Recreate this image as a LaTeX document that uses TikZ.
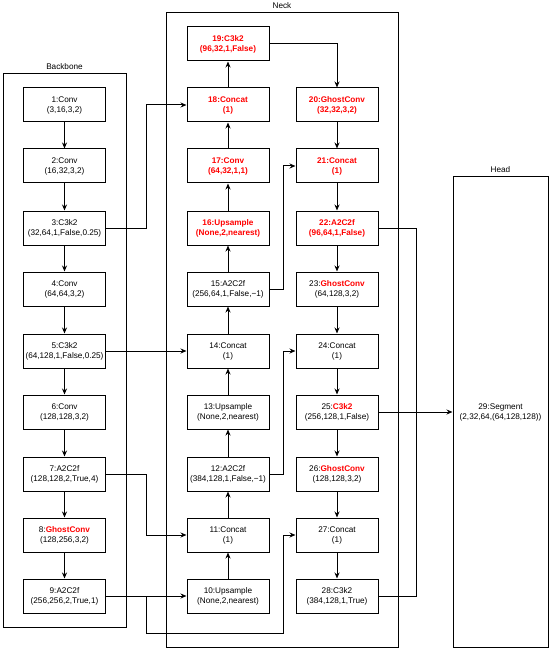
\documentclass[tikz,border=0pt]{standalone}
\usepackage{fontspec}
\setmainfont{Liberation Sans}
\usetikzlibrary{arrows.meta}
\definecolor{hl}{RGB}{255,0,0}
\tikzset{
 blk/.style={draw, line width=1pt, minimum width=82pt, minimum height=34pt, inner sep=0pt, align=center, font=\fontsize{8.2}{10}\selectfont},
 con/.style={line width=1pt, -{Stealth[length=6pt,width=5pt]}},
 ln/.style={line width=1pt},
 grp/.style={draw, line width=1pt},
 ttl/.style={font=\fontsize{8.2}{10}\selectfont}
}
\newcommand{\hlt}[1]{\textcolor{hl}{\bfseries #1}}
\begin{document}
\begin{tikzpicture}[x=1pt,y=-1pt]
\useasboundingbox (0,0) rectangle (550,652);
% containers
\draw[grp] (3,74) rectangle (126,627);
\node[ttl] (tb) at (64.5,67) {Backbone};
\draw[grp] (166,13) rectangle (398,647);
\node[ttl] (tn) at (282,6) {Neck};
\node[blk, minimum width=95pt, minimum height=471pt] (h29) at (500.5,412) {29:Segment\\(2,32,64,(64,128,128))};
\node[ttl] (th) at (500.5,170) {Head};
% backbone
\node[blk] (b1) at (64.5,105) {1:Conv\\(3,16,3,2)};
\node[blk] (b2) at (64.5,166) {2:Conv\\(16,32,3,2)};
\node[blk] (b3) at (64.5,228) {3:C3k2\\(32,64,1,False,0.25)};
\node[blk] (b4) at (64.5,289) {4:Conv\\(64,64,3,2)};
\node[blk] (b5) at (64.5,351) {5:C3k2\\(64,128,1,False,0.25)};
\node[blk] (b6) at (64.5,412) {6:Conv\\(128,128,3,2)};
\node[blk] (b7) at (64.5,474) {7:A2C2f\\(128,128,2,True,4)};
\node[blk] (b8) at (64.5,535) {8:\hlt{GhostConv}\\(128,256,3,2)};
\node[blk] (b9) at (64.5,596) {9:A2C2f\\(256,256,2,True,1)};
% neck left
\node[blk] (n19) at (228,44) {\hlt{19:C3k2}\\\hlt{(96,32,1,False)}};
\node[blk] (n18) at (228,105) {\hlt{18:Concat}\\\hlt{(1)}};
\node[blk] (n17) at (228,166) {\hlt{17:Conv}\\\hlt{(64,32,1,1)}};
\node[blk] (n16) at (228,228) {\hlt{16:Upsample}\\\hlt{(None,2,nearest)}};
\node[blk] (n15) at (228,289) {15:A2C2f\\(256,64,1,False,−1)};
\node[blk] (n14) at (228,351) {14:Concat\\(1)};
\node[blk] (n13) at (228,412) {13:Upsample\\(None,2,nearest)};
\node[blk] (n12) at (228,474) {12:A2C2f\\(384,128,1,False,−1)};
\node[blk] (n11) at (228,535) {11:Concat\\(1)};
\node[blk] (n10) at (228,596) {10:Upsample\\(None,2,nearest)};
% neck right
\node[blk] (n20) at (337,105) {\hlt{20:GhostConv}\\\hlt{(32,32,3,2)}};
\node[blk] (n21) at (337,166) {\hlt{21:Concat}\\\hlt{(1)}};
\node[blk] (n22) at (337,228) {\hlt{22:A2C2f}\\\hlt{(96,64,1,False)}};
\node[blk] (n23) at (337,289) {23:\hlt{GhostConv}\\(64,128,3,2)};
\node[blk] (n24) at (337,351) {24:Concat\\(1)};
\node[blk] (n25) at (337,412) {25:\hlt{C3k2}\\(256,128,1,False)};
\node[blk] (n26) at (337,474) {26:\hlt{GhostConv}\\(128,128,3,2)};
\node[blk] (n27) at (337,535) {27:Concat\\(1)};
\node[blk] (n28) at (337,596) {28:C3k2\\(384,128,1,True)};
% backbone chain
\foreach \a/\b in {b1/b2,b2/b3,b3/b4,b4/b5,b5/b6,b6/b7,b7/b8,b8/b9}
  \draw[con] (\a) -- (\b);
% neck left chain (upward)
\foreach \a/\b in {n10/n11,n11/n12,n12/n13,n13/n14,n14/n15,n15/n16,n16/n17,n17/n18,n18/n19}
  \draw[con] (\a) -- (\b);
% neck right chain
\foreach \a/\b in {n20/n21,n21/n22,n22/n23,n23/n24,n24/n25,n25/n26,n26/n27,n27/n28}
  \draw[con] (\a) -- (\b);
\draw[con] (n19.east) -| (n20.north);
% skip connections
\draw[con] (b3.east) -- (146,228) |- (n18.west);
\draw[con] (b5.east) -- (n14.west);
\draw[con] (b7.east) -- (146,474) |- (n11.west);
\draw[con] (b9.east) -- (n10.west);
\draw[con] (146,596) -- (146,633) -- (283,633) |- (n27.west);
\draw[con] (n12.east) -- (283,474) |- (n24.west);
\draw[con] (n15.east) -- (283,289) |- (n21.west);
% to head
\draw[con] (n25.east) -- (h29.west);
\draw[ln] (n22.east) -- (416,228) -- (416,412);
\draw[ln] (n28.east) -- (416,596) -- (416,412);
\end{tikzpicture}
\end{document}
